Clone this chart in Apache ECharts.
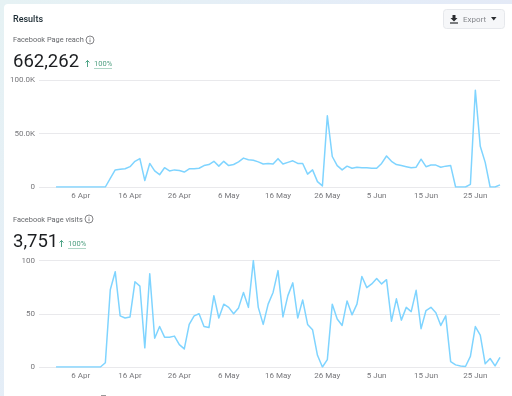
<!DOCTYPE html>
<html><head><meta charset="utf-8">
<style>html,body{margin:0;padding:0;width:512px;height:396px;overflow:hidden;background:#fff}#c{width:512px;height:396px}</style>
<script src="https://cdn.jsdelivr.net/npm/echarts@6/dist/echarts.min.js"></script>
</head><body><div id="c"></div>
<script>
const dayIndex = Array.from({length:91},(_,i)=>i); // 1 Apr .. 30 Jun
const tickIndices = [5,15,25,35,45,55,65,75,85];
const tickLabels = ['6 Apr','16 Apr','26 Apr','6 May','16 May','26 May','5 Jun','15 Jun','25 Jun'];
const reach = [0,0,0,0,0,0,0,0,0,0,0,8000,16000,16500,17000,19000,24000,26500,6000,22000,15000,11500,18000,15000,16000,15500,14000,17000,17000,17500,20000,21000,24000,19500,24000,20000,21000,23500,27000,25500,25000,23500,21500,22000,21500,26500,21500,23000,24500,22000,22000,12000,16000,5000,1000,66500,28500,20000,16000,19500,17500,18500,18000,18000,17500,17500,22000,29000,24000,21000,20000,19000,18000,18500,26000,19000,20500,20500,18500,19500,20000,0,0,0,2500,90500,38000,23000,0,0,2000];
const visits = [0,0,0,0,0,0,0,0,0,0,4,72.5,89.5,48,46,47,80,76,18,87.5,27,38,28,28,29,21,17,40,48,50,38,37,67,46,59,56,50,55.5,70,56,100,56,40,59,70,90.5,47,67,79,46,63,40,35,11,0,7,59,45,39,62,49,59,85,74.5,78,83,78,82,43,64,44,56,52,72,36,53,56,51,39,48,5,2,1,0.5,10,38,30,3,8,1,9];
const reachTicks = {0:'0',50000:'50.0K',100000:'100.0K'};
const visitTicks = {0:'0',50:'50',100:'100'};
const LINE='#7fd4ff', GRID='#e9e9ec', LAB='#77777b', FONT='Roboto,"Noto Sans",sans-serif';

function xAxis(gridIndex){return {type:'value',gridIndex,min:-3.45,max:90,
  axisLine:{show:false},axisTick:{show:false},splitLine:{show:false},
  axisLabel:{customValues:tickIndices,formatter:v=>tickLabels[tickIndices.indexOf(v)]||'',
    color:LAB,fontSize:8,fontFamily:FONT,margin:5,hideOverlap:false,showMinLabel:true,showMaxLabel:true}};}
function yAxis(gridIndex,max,interval,map){return {type:'value',gridIndex,min:0,max,interval,
  axisLine:{show:false},axisTick:{show:false},
  splitLine:{lineStyle:{color:GRID,width:1}},
  axisLabel:{formatter:v=>map[v],color:LAB,fontSize:8,lineHeight:10,verticalAlign:'middle',verticalAlignMinLabel:'middle',verticalAlignMaxLabel:'middle',align:'right',fontFamily:FONT,margin:4}};}
function line(i,vals){return {type:'line',xAxisIndex:i,yAxisIndex:i,showSymbol:false,smooth:false,silent:true,animation:false,
  data:dayIndex.map((d,k)=>[d,vals[k]]),lineStyle:{color:LINE,width:1.5,join:'round'}};}
function txt(x,y,text,size,fill,weight){return {type:'text',x,y,silent:true,style:{text,fontSize:size,fill,fontWeight:weight||'normal',fontFamily:FONT,textVerticalAlign:'middle'}};}
function info(cx,cy){return [
  {type:'circle',shape:{cx,cy,r:4},style:{fill:'none',stroke:'#66666a',lineWidth:0.8}},
  {type:'line',shape:{x1:cx,y1:cy-0.5,x2:cx,y2:cy+2.2},style:{stroke:'#66666a',lineWidth:0.8}},
  {type:'line',shape:{x1:cx,y1:cy-2.2,x2:cx,y2:cy-1.4},style:{stroke:'#66666a',lineWidth:0.8}}];}
function delta(ax,cy,tx){return [
  {type:'line',shape:{x1:ax,y1:cy-3.5,x2:ax,y2:cy+3},style:{stroke:'#3a9a78',lineWidth:0.9}},
  {type:'polyline',shape:{points:[[ax-2,cy-1.5],[ax,cy-3.5],[ax+2,cy-1.5]]},style:{fill:'none',stroke:'#3a9a78',lineWidth:0.9}},
  txt(tx,cy,'100%',7.5,'#4f9f80'),
  {type:'line',shape:{x1:tx,y1:cy+4.5,x2:tx+18,y2:cy+4.5},style:{stroke:'#8cc4ae',lineWidth:0.7}}];}

const graphic=[
  {type:'rect',z:-10,shape:{x:0,y:0,width:512,height:396},style:{fill:new echarts.graphic.LinearGradient(0,0,1,1,[{offset:0,color:'#e6f2f4'},{offset:0.5,color:'#e4ecf8'},{offset:1,color:'#e4e4f2'}])}},
  {type:'rect',z:-9,shape:{x:4,y:4,width:520,height:400,r:4},style:{fill:'#fff'}},
  txt(13,19.5,'Results',9,'#1c2b33','500'),
  txt(13,40.5,'Facebook Page reach',7.4,'#65676b'),
  ...info(90,40),
  txt(13,62.5,'662,262',18.5,'#1c1e21'),
  ...delta(87.5,64,94),
  txt(13,220.5,'Facebook Page visits',7.4,'#65676b'),
  ...info(89,219),
  txt(13,242.5,'3,751',18.5,'#1c1e21'),
  ...delta(61.5,244,68),
  {type:'rect',shape:{x:443.5,y:9.5,width:61,height:19,r:3},style:{fill:'#f6f7f9',stroke:'#e6e8ec',lineWidth:1}},
  {type:'polygon',shape:{points:[[452.5,15],[455.5,15],[455.5,18],[457.5,18],[454,21.5],[450.5,18],[452.5,18]]},style:{fill:'#2a2c30'}},
  {type:'line',shape:{x1:450,y1:23,x2:458,y2:23},style:{stroke:'#2a2c30',lineWidth:1.2}},
  txt(463,19.5,'Export',8,'#85878c'),
  {type:'polygon',shape:{points:[[491,17],[496.5,17],[493.75,20.5]]},style:{fill:'#2a2c30'}},
  {type:'line',shape:{x1:101,y1:395.5,x2:106,y2:395.5},style:{stroke:'#999',lineWidth:1}}
];

const chart=echarts.init(document.getElementById('c'),null,{renderer:'canvas'});
chart.setOption({animation:false,
  grid:[{left:39,right:12,top:80,height:107},{left:39,right:12,top:260.5,height:106.5}],
  xAxis:[xAxis(0),xAxis(1)],
  yAxis:[yAxis(0,100000,50000,reachTicks),yAxis(1,100,50,visitTicks)],
  series:[line(0,reach),line(1,visits)],
  graphic
});
</script></body></html>
